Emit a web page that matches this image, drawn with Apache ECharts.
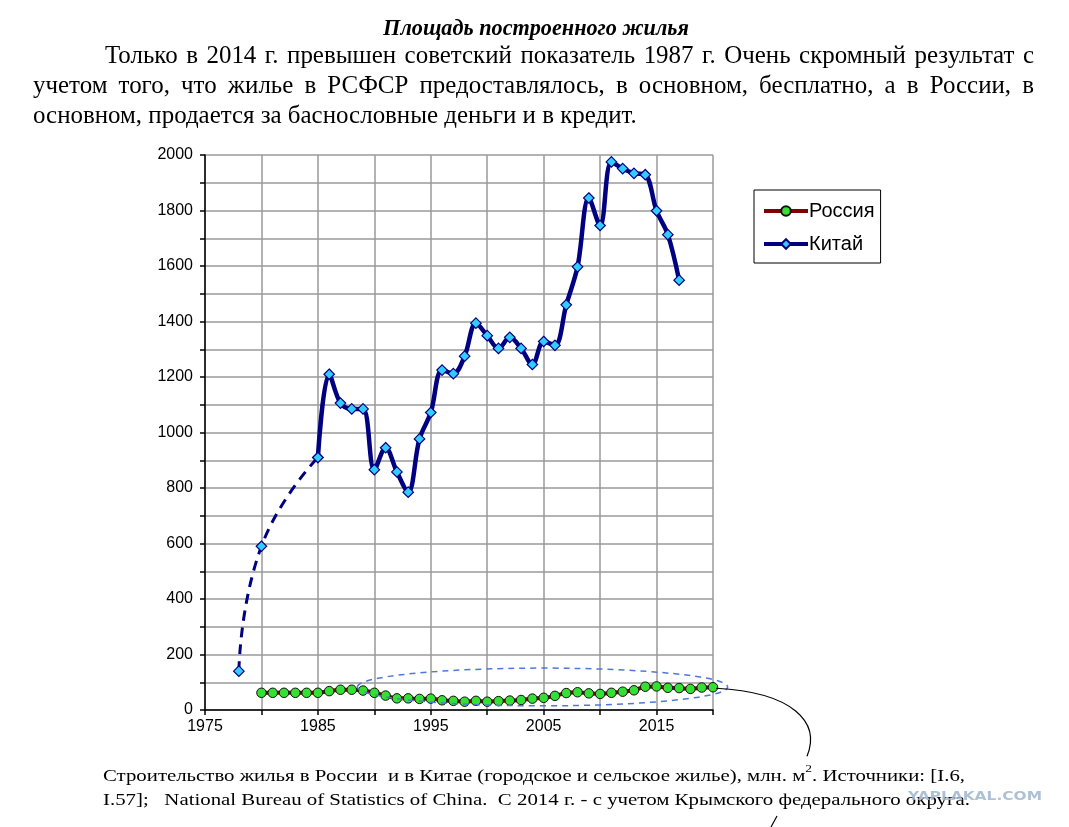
<!DOCTYPE html>
<html>
<head>
<meta charset="utf-8">
<script src="https://cdn.jsdelivr.net/npm/echarts@6/dist/echarts.min.js"></script>
<style>
html, body { margin: 0; padding: 0; background: #fff; }
#main { width: 1069px; height: 827px; }
</style>
</head>
<body>
<div id="main"></div>
<script>
var chart = echarts.init(document.getElementById('main'));

// Россия, млн. м2
var russiaYears = [1980, 1981, 1982, 1983, 1984, 1985, 1986, 1987, 1988, 1989,
    1990, 1991, 1992, 1993, 1994, 1995, 1996, 1997, 1998, 1999,
    2000, 2001, 2002, 2003, 2004, 2005, 2006, 2007, 2008, 2009,
    2010, 2011, 2012, 2013, 2014, 2015, 2016, 2017, 2018, 2019, 2020];
var russia = [62, 62, 62, 62, 62, 62, 68, 73, 73, 70,
    62, 52, 42, 42, 40, 41, 35, 33, 30, 33,
    30, 32, 34, 36, 41, 44, 51, 61, 64, 60,
    58, 62, 66, 71, 84, 85, 80, 79, 76, 81, 82];

// Китай, млн. м2
var chinaYears = [1985, 1986, 1987, 1988, 1989, 1990, 1991, 1992, 1993, 1994,
    1995, 1996, 1997, 1998, 1999, 2000, 2001, 2002, 2003, 2004,
    2005, 2006, 2007, 2008, 2009, 2010, 2011, 2012, 2013, 2014,
    2015, 2016, 2017];
var china = [910, 1210, 1106, 1085, 1085, 866, 945, 858, 785, 977,
    1072, 1225, 1212, 1275, 1394, 1349, 1303, 1343, 1303, 1245,
    1328, 1314, 1460, 1597, 1845, 1746, 1975, 1951, 1934, 1929,
    1799, 1713, 1549];
// early years, drawn dashed
var chinaEarlyYears = [1978, 1980, 1985];
var chinaEarly = [140, 590, 910];

var xLabelYears = [1975, 1985, 1995, 2005, 2015];
var yLabelValues = [0, 200, 400, 600, 800, 1000, 1200, 1400, 1600, 1800, 2000];

var title = 'Площадь построенного жилья';
var paragraph = [
    'Только в 2014 г. превышен советский показатель 1987 г. Очень скромный результат с',
    'учетом того, что жилье в РСФСР предоставлялось, в основном, бесплатно, а в России, в',
    'основном, продается за баснословные деньги и в кредит.'
];
var caption1a = 'Строительство жилья в России  и в Китае (городское и сельское жилье), млн. м';
var caption1b = '. Источники: [I.6,';
var caption2 = 'I.57];   National Bureau of Statistics of China.  С 2014 г. - с учетом Крымского федерального округа.';

function pairs(xs, ys) {
    return xs.map(function (x, i) { return [x, ys[i]]; });
}

var serif = '"Liberation Serif", "Times New Roman", serif';
var sans = '"Liberation Sans", Arial, sans-serif';

var option = {
    animation: false,
    backgroundColor: '#fff',
    grid: { left: 205, top: 155, width: 508, height: 555 },
    legend: {
        orient: 'vertical',
        left: 754,
        top: 190,
        data: ['Россия', 'Китай'],
        backgroundColor: '#fff',
        borderColor: '#000',
        borderWidth: 1,
        borderRadius: 0,
        padding: [11, 6, 9, 8],
        itemWidth: 44,
        itemHeight: 12,
        itemGap: 13,
        lineStyle: { width: 4 },
        textStyle: { fontFamily: sans, fontSize: 20, color: '#000', padding: [0, 0, 0, -4] }
    },
    xAxis: {
        type: 'value',
        min: 1975,
        max: 2020,
        interval: 5,
        axisLine: { lineStyle: { color: '#000', width: 1.5 } },
        axisTick: { show: true, length: 5, lineStyle: { color: '#000', width: 1.5 } },
        axisLabel: {
            margin: 9,
            fontFamily: sans,
            fontSize: 16,
            color: '#000',
            formatter: function (v) {
                return xLabelYears.indexOf(v) >= 0 ? String(v) : '';
            }
        },
        splitLine: { show: true, lineStyle: { color: '#9a9a9a', width: 1.5 } }
    },
    yAxis: {
        type: 'value',
        min: 0,
        max: 2000,
        interval: 100,
        axisLine: { show: true, lineStyle: { color: '#000', width: 1.5 } },
        axisTick: { show: true, length: 5, lineStyle: { color: '#000', width: 1.5 } },
        axisLabel: {
            margin: 12,
            fontFamily: sans,
            fontSize: 16,
            color: '#000',
            formatter: function (v) {
                return yLabelValues.indexOf(v) >= 0 ? String(v) : '';
            }
        },
        splitLine: { show: true, lineStyle: { color: '#9a9a9a', width: 1.5 } }
    },
    series: [
        {
            name: 'Китай (оценка)',
            type: 'line',
            data: pairs(chinaEarlyYears, chinaEarly),
            smooth: 0.5,
            symbol: 'diamond',
            symbolSize: 10.5,
            z: 2,
            lineStyle: { color: '#000080', width: 3, type: [10, 7] },
            itemStyle: { color: '#33ccff', borderColor: '#000080', borderWidth: 1.2 }
        },
        {
            name: 'Россия',
            type: 'line',
            data: pairs(russiaYears, russia),
            smooth: 0.3,
            symbol: 'circle',
            symbolSize: 9.5,
            z: 3,
            lineStyle: { color: '#800000', width: 4 },
            itemStyle: { color: '#33e033', borderColor: '#111', borderWidth: 1 }
        },
        {
            name: 'Китай',
            type: 'line',
            data: pairs(chinaYears, china),
            smooth: 0.35,
            symbol: 'diamond',
            symbolSize: 10.5,
            z: 4,
            lineStyle: { color: '#000080', width: 4.5 },
            itemStyle: { color: '#33ccff', borderColor: '#000080', borderWidth: 1.2 }
        }
    ]
};

chart.setOption(option);

// text measuring for fitting the page text
var ctx = document.createElement('canvas').getContext('2d');
function measure(str, font) {
    ctx.font = font;
    return ctx.measureText(str).width;
}

var g = [];

// title
var tFont = function (s) { return 'italic bold ' + s + 'px ' + serif; };
var tSize = 20 * 306 / measure(title, tFont(20));
g.push({
    type: 'text', x: 536, y: 29,
    style: { text: title, font: tFont(tSize), fill: '#000', align: 'center', verticalAlign: 'middle' }
});

// paragraph, first two lines justified
var pFont = function (s) { return s + 'px ' + serif; };
var pSize = 22 * 604 / measure(paragraph[2], pFont(22));
function justify(line, x0, x1, y) {
    var words = line.split(' ');
    var widths = words.map(function (w) { return measure(w, pFont(pSize)); });
    var total = widths.reduce(function (a, b) { return a + b; }, 0);
    var gap = (x1 - x0 - total) / (words.length - 1);
    var x = x0;
    words.forEach(function (w, i) {
        g.push({
            type: 'text', x: x, y: y,
            style: { text: w, font: pFont(pSize), fill: '#000', verticalAlign: 'middle' }
        });
        x += widths[i] + gap;
    });
}
justify(paragraph[0], 105, 1034, 56);
justify(paragraph[1], 33, 1034, 86);
g.push({
    type: 'text', x: 33, y: 116,
    style: { text: paragraph[2], font: pFont(pSize), fill: '#000', verticalAlign: 'middle' }
});

// caption under the chart
var cSize = 17;
var cFont = pFont(cSize);
var wa = measure(caption1a, cFont);
var wSup = measure('2', pFont(11));
var wb = measure(caption1b, cFont);
var s1 = (965 - 103) / (wa + wSup + wb);
var s2 = (970 - 103) / measure(caption2, cFont);
g.push({
    type: 'group', x: 103, y: 777, scaleX: s1,
    children: [
        { type: 'text', x: 0, y: 0, style: { text: caption1a, font: cFont, fill: '#000', verticalAlign: 'middle' } },
        { type: 'text', x: wa, y: -8, style: { text: '2', font: pFont(11), fill: '#000', verticalAlign: 'middle' } },
        { type: 'text', x: wa + wSup, y: 0, style: { text: caption1b, font: cFont, fill: '#000', verticalAlign: 'middle' } }
    ]
});
g.push({
    type: 'group', x: 103, y: 801, scaleX: s2,
    children: [
        { type: 'text', x: 0, y: 0, style: { text: caption2, font: cFont, fill: '#000', verticalAlign: 'middle' } }
    ]
});

// dashed ellipse around the Russian series and the leader line
var c = chart.convertToPixel({ gridIndex: 0 }, [2004.9, 83]);
var e1 = chart.convertToPixel({ gridIndex: 0 }, [2021.3, 83 - 68]);
var last = chart.convertToPixel({ gridIndex: 0 }, [russiaYears[russiaYears.length - 1], russia[russia.length - 1]]);
g.push({
    type: 'ellipse',
    shape: { cx: c[0], cy: c[1], rx: e1[0] - c[0], ry: e1[1] - c[1] },
    style: { fill: 'none', stroke: '#4f79d6', lineWidth: 1.5, lineDash: [6, 5] },
    z: 10
});
g.push({
    type: 'bezierCurve',
    shape: {
        x1: last[0] + 3, y1: last[1] + 1,
        cpx1: last[0] + 80, cpy1: last[1] + 5,
        cpx2: last[0] + 108, cpy2: last[1] + 35,
        x2: last[0] + 94, y2: last[1] + 69
    },
    style: { fill: 'none', stroke: '#000', lineWidth: 1.2 },
    z: 10
});
g.push({
    type: 'line',
    shape: { x1: 777, y1: 816, x2: 771, y2: 827 },
    style: { stroke: '#000', lineWidth: 1.2 }
});

// watermark
var wmFont = 'bold 13px "DejaVu Sans", sans-serif';
var wmScale = 134 / measure('YAPLAKAL.COM', wmFont);
g.push({
    type: 'text', x: 908, y: 797, scaleX: wmScale, z: 20,
    style: { text: 'YAPLAKAL.COM', font: wmFont, fill: 'rgba(160,182,205,0.85)', verticalAlign: 'middle' }
});

chart.setOption({ graphic: g });
</script>
</body>
</html>
